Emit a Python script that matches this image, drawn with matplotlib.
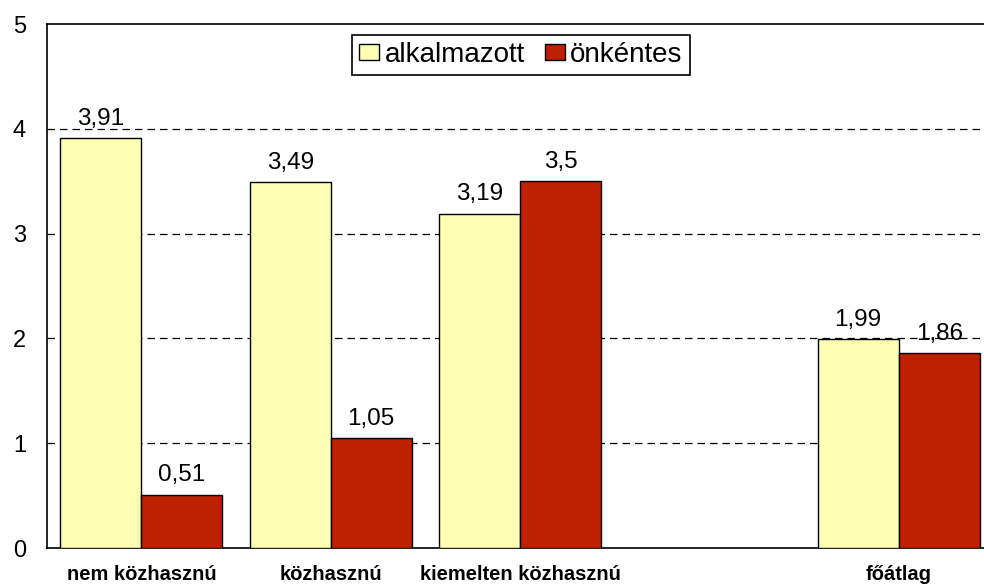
import numpy as np
import matplotlib
matplotlib.use("Agg")
import matplotlib.pyplot as plt

plt.rcParams['font.family'] = ['Liberation Sans', 'DejaVu Sans']

kategoriak = ['nem közhasznú', 'közhasznú', 'kiemelten közhasznú', '', 'főátlag']
alkalmazott = [3.91, 3.49, 3.19, None, 1.99]
onkentes = [0.51, 1.05, 3.5, None, 1.86]
sorozatok = ['alkalmazott', 'önkéntes']
szinek = ['#FFFFB4', '#BF2000']

fig = plt.figure(figsize=(9.84, 5.85), dpi=100)
ax = fig.add_axes([0.0475, 0.0632, 0.962, 0.8957])

x = np.arange(len(kategoriak))
w = 0.428
for i, (ertekek, nev, szin) in enumerate(zip([alkalmazott, onkentes], sorozatok, szinek)):
    idx = [k for k, v in enumerate(ertekek) if v is not None]
    vals = [ertekek[k] for k in idx]
    pos = x[idx] + (i - 0.5) * w
    ax.bar(pos, vals, width=w, color=szin, edgecolor='black', linewidth=1, label=nev, zorder=3)
    for p, v in zip(pos, vals):
        ax.annotate(('%g' % v).replace('.', ','), (p, v), xytext=(0, 6), textcoords='offset points',
                    ha='center', va='bottom', fontsize=17.5, zorder=4)

ax.set_xlim(-0.5, len(kategoriak) - 0.5)
ax.set_ylim(0, 5)
ax.set_yticks(range(6))
ax.set_xticks(x)
ax.set_xticklabels(kategoriak, fontsize=14.5, fontweight='bold')
ax.tick_params(axis='y', length=0, pad=15, labelsize=17)
ax.tick_params(axis='x', length=0, pad=12)
for yv in range(1, 5):
    ax.axhline(yv, color='black', linestyle=(0, (6, 4)), linewidth=0.9, zorder=1)
for s in ax.spines.values():
    s.set_linewidth(1.2)

leg = ax.legend(loc='upper center', bbox_to_anchor=(0.501, 0.979), ncol=2, fontsize=20,
                frameon=True, fancybox=False, edgecolor='black', framealpha=1,
                handlelength=0.72, handleheight=0.5, handletextpad=0.2, columnspacing=0.7,
                borderpad=0.25, borderaxespad=0)
leg.get_frame().set_linewidth(1.2)

fig.savefig('out.png', dpi=100)
